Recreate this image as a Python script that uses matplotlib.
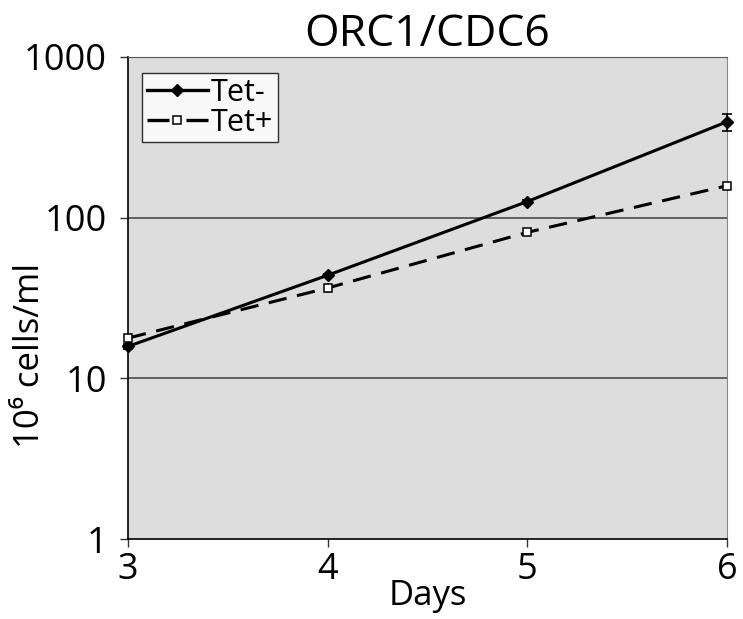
import matplotlib.pyplot as plt
from matplotlib.lines import Line2D
import numpy as np

plt.rcParams['font.family'] = ['Open Sans', 'DejaVu Sans']

days = [3, 4, 5, 6]
tet_minus = [15.8, 43.8, 126, 395]
tet_minus_err = [0.5, 1.0, 2.0, 48]
tet_plus = [17.8, 36.5, 81, 158]
tet_plus_err = [0.5, 2.5, 4.0, 8.0]

fig = plt.figure(figsize=(7.43, 6.19), dpi=100)
ax = fig.add_axes([0.1723, 0.1292, 0.8062, 0.7788])
ax.set_facecolor('#dddddd')

ax.set_yscale('log')
ax.set_ylim(1, 1000)
ax.set_xlim(3, 6)

for v in [10, 100, 1000]:
    ax.axhline(v, color='#555555', lw=1.3, zorder=1)

dash = (0, (6, 3.5))
ax.errorbar(days, tet_minus, yerr=tet_minus_err, color='black', lw=2.2,
            marker='D', ms=6.5, mfc='black', mec='black', capsize=3.5,
            elinewidth=1.2, capthick=1.2, zorder=3, clip_on=False)
ax.errorbar(days, tet_plus, yerr=tet_plus_err, color='black', lw=2.2,
            ls=dash, marker='s', ms=5.5, mfc='white', mec='black',
            mew=1.1, capsize=0, elinewidth=1.2, zorder=3, clip_on=False)

ax.set_xticks(days)
ax.set_yticks([1, 10, 100, 1000])
ax.set_yticklabels(['1', '10', '100', '1000'])
ax.minorticks_off()
ax.tick_params(labelsize=26, length=6, width=1, color='#333333')
ax.tick_params(axis='y', pad=9)
ax.tick_params(axis='x', pad=3)

ax.spines['left'].set_color('black')
ax.spines['bottom'].set_color('black')
ax.spines['right'].set_color('#888888')
ax.spines['top'].set_color('#555555')
ax.spines['left'].set_linewidth(1.2)
ax.spines['bottom'].set_linewidth(1.2)

ax.set_title('ORC1/CDC6', fontsize=32, pad=6)
ax.set_xlabel('Days', fontsize=25, labelpad=-6)
fig.text(30 / 743, 1 - 355 / 619, '10⁶ cells/ml', fontsize=25,
         rotation=90, ha='center', va='center')

# legend handles: no error bars, dashed one shows as two segments round the box
handles = [
    Line2D([], [], color='black', lw=2.4, marker='D', ms=6, mfc='black'),
    Line2D([], [], color='black', lw=2.4, ls=(0, (6.6, 5.1)), marker='s',
           ms=5.5, mfc='white', mec='black', mew=1.1),
]
leg = ax.legend(handles, ['Tet-', 'Tet+'], loc='upper left',
                bbox_to_anchor=(14 / 599, 1 - 16 / 482), fontsize=22,
                frameon=True, fancybox=False, edgecolor='black',
                handlelength=2.0, handletextpad=0.1, borderpad=0.15,
                labelspacing=0.0, borderaxespad=0)
leg.get_frame().set_linewidth(1.0)
leg.get_frame().set_facecolor('white')

fig.savefig('out.png', dpi=100)
